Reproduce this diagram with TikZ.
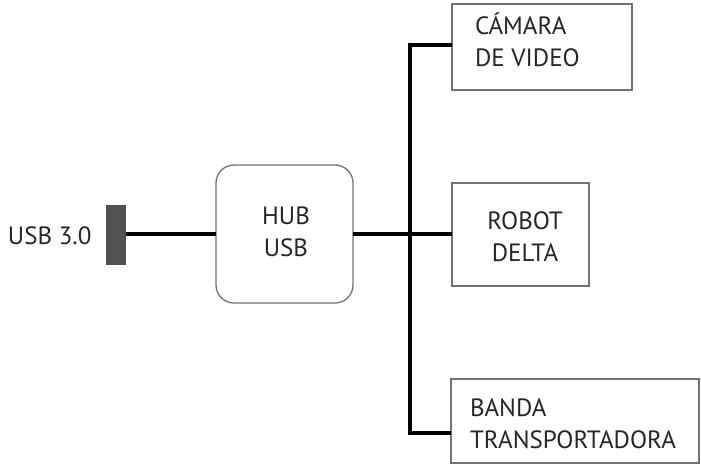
\documentclass[tikz,border=0pt]{standalone}
\usepackage{fontspec}
\setmainfont{PT Sans}
\begin{document}
\begin{tikzpicture}[x=1pt,y=-1pt,
  box/.style={draw=black!55,line width=1.3pt,fill=white,inner sep=0pt,outer sep=0pt},
  bus/.style={line width=3.5pt,black},
  lbl/.style={inner sep=0pt,outer sep=0pt,font=\fontsize{25}{32}\selectfont,text=black!85}]
\useasboundingbox (0,0) rectangle (701,465);
% connector plug
\node[draw=black!70,fill=black!68,line width=0.8pt,minimum width=19pt,minimum height=59pt,inner sep=0pt,anchor=north west] (plug) at (106,205) {};
\node[lbl,anchor=base west] (usbl) at (8,244) {USB 3.0};
% hub
\node[box,rounded corners=18pt,minimum width=137pt,minimum height=138pt,anchor=north west] (hub) at (216,165) {};
\node[lbl,align=center,anchor=base] (hubl) at (286,256) {HUB\\USB};
% devices
\node[box,minimum width=180pt,minimum height=86pt,anchor=north west] (cam) at (452,4) {};
\node[lbl,align=left,anchor=base west] (caml) at (475,67) {CÁMARA\\DE VIDEO};
\node[box,minimum width=137pt,minimum height=103pt,anchor=north west] (rob) at (452,183) {};
\node[lbl,align=center,anchor=base] (robl) at (525,261) {ROBOT\\DELTA};
\node[box,minimum width=248pt,minimum height=84pt,anchor=north west] (ban) at (451,379) {};
\node[lbl,align=left,anchor=base west] (banl) at (470,448) {BANDA\\TRANSPORTADORA};
% bus coordinates
\coordinate (btop) at (410,45);
\coordinate (bbot) at (410,433);
\coordinate (bmid) at (410,234);
% connectors
\draw[bus] (plug.east |- 0,234) -- (hub.west |- 0,234);
\draw[bus] (hub.east |- bmid) -- (rob.west |- bmid);
\draw[bus,line join=miter] (cam.west |- btop) -- (btop) -- (bbot) -- (ban.west |- bbot);
\end{tikzpicture}
\end{document}
